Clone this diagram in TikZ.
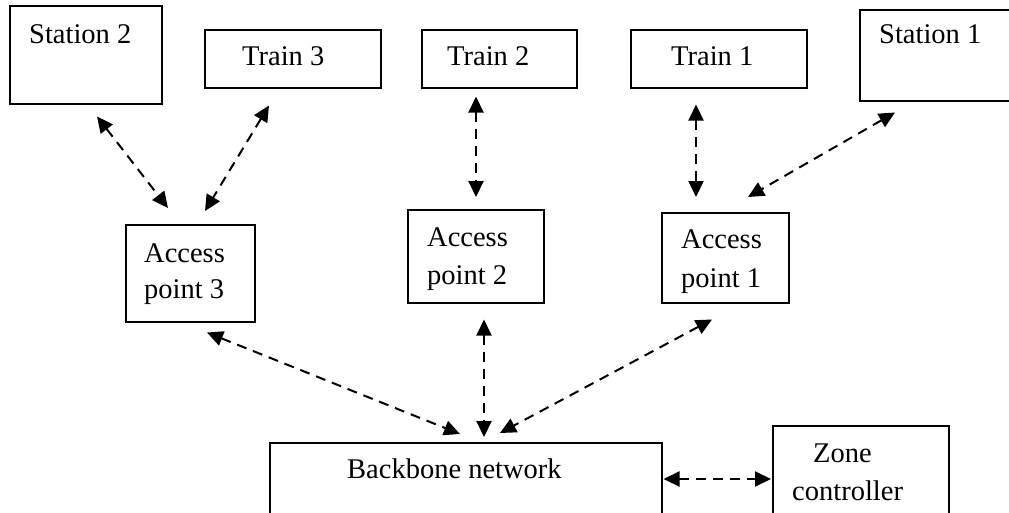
\documentclass[tikz,border=0pt]{standalone}
\usepackage{fontspec}
\setmainfont{Liberation Serif}
\usetikzlibrary{arrows.meta,calc}
\begin{document}
\begin{tikzpicture}[x=1pt,y=-1pt,
  box/.style={draw,line width=1.5pt,rectangle,anchor=north west,inner sep=0pt},
  lbl/.style={anchor=base west,inner sep=0pt,font=\fontsize{28.5}{34}\selectfont},
  link/.style={line width=2pt,dash pattern=on 10pt off 7pt,
    {Triangle[length=16pt,width=15pt]}-{Triangle[length=16pt,width=15pt]}}]
\useasboundingbox (0,0) rectangle (1009,512);
\clip (0,0) rectangle (1009,512);
% boxes
\node[box,minimum width=152pt,minimum height=98pt] (st2) at (9,5) {};
\node[box,minimum width=176pt,minimum height=58pt] (tr3) at (204,29) {};
\node[box,minimum width=155pt,minimum height=58pt] (tr2) at (421,29) {};
\node[box,minimum width=176pt,minimum height=58pt] (tr1) at (630,29) {};
\node[box,minimum width=170pt,minimum height=91pt] (st1) at (859,9) {};
\node[box,minimum width=129pt,minimum height=97pt] (ap3) at (125,224) {};
\node[box,minimum width=136pt,minimum height=93pt] (ap2) at (407,209) {};
\node[box,minimum width=127pt,minimum height=90pt] (ap1) at (661,212) {};
\node[box,minimum width=392pt,minimum height=100pt] (bb) at (269,442) {};
\node[box,minimum width=176pt,minimum height=100pt] (zc) at (772,425) {};
% texts
\node[lbl] (st2t) at (29,43) {Station 2};
\node[lbl] (tr3t) at (242,65) {Train 3};
\node[lbl] (tr2t) at (447,65) {Train 2};
\node[lbl] (tr1t) at (671,65) {Train 1};
\node[lbl] (st1t) at (879,43) {Station 1};
\node[lbl] (ap3a) at (144,262) {Access};
\node[lbl] (ap3b) at (144,298) {point 3};
\node[lbl] (ap2a) at (427,246) {Access};
\node[lbl] (ap2b) at (427,284) {point 2};
\node[lbl] (ap1a) at (681,248) {Access};
\node[lbl] (ap1b) at (681,287) {point 1};
\node[lbl] (bbt) at (347,478) {Backbone network};
\node[lbl] (zct1) at (813,462) {Zone};
\node[lbl] (zct2) at (792,500) {controller};
% connectors
\draw[link] ([shift={(88pt,-12pt)}]st2.south west) -- ([shift={(43pt,16pt)}]ap3.north west);
\draw[link] ([shift={(65pt,-17pt)}]tr3.south west) -- ([shift={(80pt,13pt)}]ap3.north west);
\draw[link] ([shift={(55pt,-8pt)}]tr2.south west) -- ([shift={(69pt,12pt)}]ap2.north west);
\draw[link] ([shift={(66pt,-16pt)}]tr1.south west) -- ([shift={(35pt,15pt)}]ap1.north west);
\draw[link] ([shift={(36pt,-11pt)}]st1.south west) -- ([shift={(87pt,15pt)}]ap1.north west);
\draw[link] ([shift={(82pt,-10pt)}]ap3.south west) -- ([shift={(191pt,8pt)}]bb.north west);
\draw[link] ([shift={(77pt,-16pt)}]ap2.south west) -- ([shift={(215pt,5pt)}]bb.north west);
\draw[link] ([shift={(51pt,-16pt)}]ap1.south west) -- ([shift={(231pt,9pt)}]bb.north west);
\draw[link] ([shift={(1pt,-37pt)}]bb.north east) -- ([shift={(-1pt,-54pt)}]zc.north west);
\end{tikzpicture}
\end{document}
